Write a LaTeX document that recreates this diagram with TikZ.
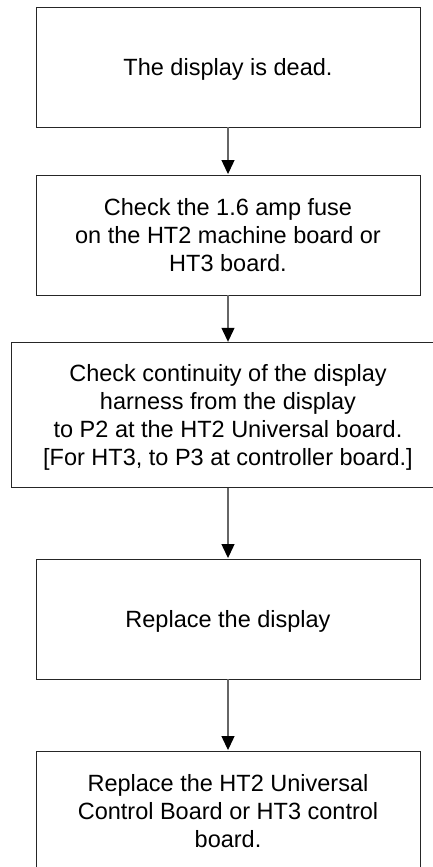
\documentclass[tikz,border=0pt]{standalone}
\usepackage{fontspec}
\setmainfont{Liberation Sans}
\usetikzlibrary{arrows.meta}
\tikzset{
  box/.style={draw=black!85, line width=0.9pt, inner sep=0pt, align=center,
    minimum width=384pt, minimum height=120pt, text depth=0pt,
    font=\fontsize{23.5}{28}\selectfont},
  arr/.style={draw=black!60, line width=1.2pt,
    -{Triangle[length=14pt,width=13pt,fill=black,color=black]}, shorten >=0.5pt}
}
\begin{document}
\begin{tikzpicture}[x=1pt,y=-1pt]
\useasboundingbox (0,0) rectangle (433,867);
\clip (0,0) rectangle (433,867);
\node[box] (b1) at (228,67) {The display is dead.};
\node[box] (b2) at (228,235) {Check the 1.6 amp fuse\\on the HT2 machine board or\\HT3 board.};
\node[box, minimum width=434pt, minimum height=144.5pt, text depth=-8pt] (b3) at (228,415) {Check continuity of the display\\harness from the display\\to P2 at the HT2 Universal board.\\{[}For HT3, to P3 at controller board.]};
\node[box] (b4) at (228,619) {Replace the display};
\node[box] (b5) at (228,811) {Replace the HT2 Universal\\Control Board or HT3 control\\board.};
\draw[arr] (b1.south) -- (b2.north);
\draw[arr] (b2.south) -- (b3.north);
\draw[arr] (b3.south) -- (b4.north);
\draw[arr] (b4.south) -- (b5.north);
\end{tikzpicture}
\end{document}
